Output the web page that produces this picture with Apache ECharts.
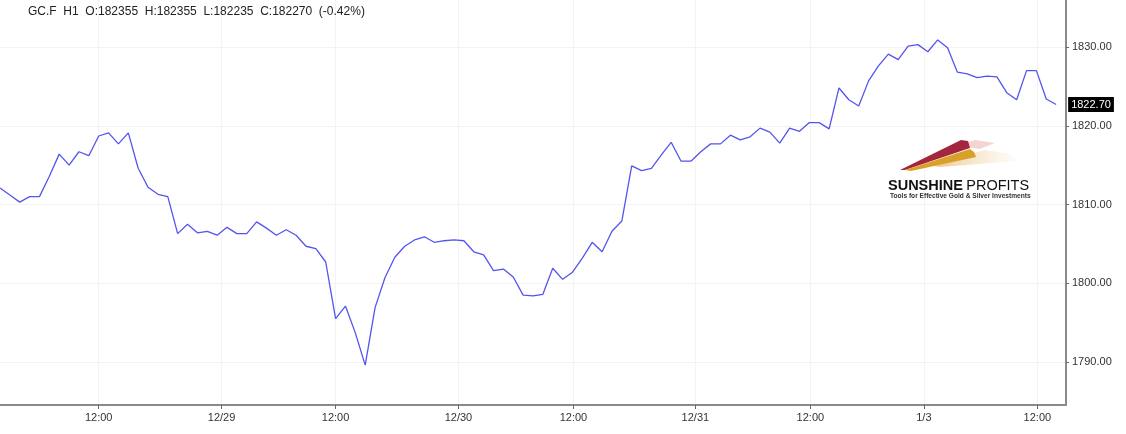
<!DOCTYPE html>
<html>
<head>
<meta charset="utf-8">
<script src="https://cdn.jsdelivr.net/npm/echarts@6/dist/echarts.min.js"></script>
<style>
html,body{margin:0;padding:0;background:#fff;}
#chart{width:1126px;height:434px;}
</style>
</head>
<body>
<div id="chart"></div>
<script>
// Hourly closes (bar index = position in array)
const prices = [
  1812.1, 1811.2, 1810.3, 1811.0, 1811.0, 1813.6, 1816.4, 1815.0, 1816.7, 1816.2,
  1818.7, 1819.1, 1817.7, 1819.1, 1814.6, 1812.2, 1811.3, 1811.0, 1806.3, 1807.5,
  1806.4, 1806.6, 1806.1, 1807.1, 1806.3, 1806.3, 1807.8, 1807.0, 1806.1, 1806.8,
  1806.1, 1804.7, 1804.4, 1802.7, 1795.5, 1797.1, 1793.7, 1789.6, 1796.9, 1800.7,
  1803.3, 1804.7, 1805.5, 1805.9, 1805.2, 1805.4, 1805.5, 1805.4, 1804.0, 1803.6,
  1801.6, 1801.8, 1800.8, 1798.5, 1798.4, 1798.6, 1801.9, 1800.5, 1801.4, 1803.2,
  1805.2, 1804.0, 1806.6, 1807.9, 1814.9, 1814.3, 1814.6, 1816.3, 1817.9, 1815.5,
  1815.5, 1816.7, 1817.7, 1817.7, 1818.8, 1818.2, 1818.6, 1819.7, 1819.2, 1817.8,
  1819.7, 1819.3, 1820.4, 1820.4, 1819.6, 1824.8, 1823.3, 1822.5, 1825.7, 1827.6,
  1829.1, 1828.4, 1830.1, 1830.3, 1829.4, 1830.9, 1829.9, 1826.8, 1826.6, 1826.1,
  1826.3, 1826.2, 1824.2, 1823.3, 1827.0, 1827.0, 1823.4, 1822.7
];
// X tick positions (in bar-index units) and their labels
const xTickPositions = [10, 22.45, 34, 46.45, 58.1, 70.45, 82.1, 93.6, 105.1];
const xTickLabels = ['12:00', '12/29', '12:00', '12/30', '12:00', '12/31', '12:00', '1/3', '12:00'];
// Y ticks
const yTicks = [1790, 1800, 1810, 1820, 1830];
const titleText = 'GC.F  H1  O:182355  H:182355  L:182235  C:182270  (-0.42%)';

const seriesData = prices.map((v, i) => [i, v]);
const axisGray = '#8a8a8a';
const gridColor = '#f3f3f3';
const font = 'Liberation Sans, Arial, sans-serif';

const chart = echarts.init(document.getElementById('chart'), null, {renderer: 'canvas'});
chart.setOption({
  animation: false,
  backgroundColor: '#ffffff',
  grid: {left: 0, right: 60, top: 0, bottom: 29, containLabel: false},
  xAxis: {
    type: 'value',
    min: 0,
    max: 108,
    axisLine: {show: true, onZero: false, lineStyle: {color: axisGray, width: 2}},
    axisTick: {show: true, length: 4, customValues: xTickPositions, lineStyle: {color: '#666', width: 1}},
    axisLabel: {
      customValues: xTickPositions,
      fontFamily: font, fontSize: 11, color: '#333', margin: 7,
      formatter: function (v) {
        let best = 0, d = 1e9;
        xTickPositions.forEach((p, k) => { if (Math.abs(p - v) < d) { d = Math.abs(p - v); best = k; } });
        return xTickLabels[best];
      }
    },
    splitLine: {show: true, lineStyle: {color: gridColor, width: 1}}
  },
  yAxis: {
    type: 'value',
    position: 'right',
    min: 1784.54,
    max: 1835.97,
    axisLine: {show: true, onZero: false, lineStyle: {color: axisGray, width: 2}},
    axisTick: {show: true, inside: false, length: 3, customValues: yTicks, lineStyle: {color: '#666', width: 1}},
    axisLabel: {
      customValues: yTicks,
      fontFamily: font, fontSize: 11, color: '#333', margin: 6,
      formatter: v => v.toFixed(2)
    },
    splitLine: {show: true, lineStyle: {color: gridColor, width: 1}}
  },
  series: [{
    type: 'line',
    data: seriesData,
    showSymbol: false,
    symbol: 'none',
    z: 5,
    lineStyle: {color: '#5454ee', width: 1.3},
    clip: false,
    endLabel: {
      show: true,
      distance: 12,
      formatter: p => p.value[1].toFixed(2),
      backgroundColor: '#000',
      color: '#fff',
      fontFamily: font,
      fontSize: 11,
      padding: [2, 3, 2, 3]
    }
  }],
  graphic: [
    {
      type: 'text', left: 28, top: 6, z: 100,
      style: {text: titleText, fontFamily: font, fontSize: 12, fill: '#222'}
    },
    // logo swooshes
    {
      type: 'polygon', silent: true, z: 100,
      shape: {points: [[900, 170], [961, 140], [968, 141], [970, 148], [905, 170]]},
      style: {fill: '#a3263d'}
    },
    {
      type: 'polygon', silent: true, z: 100,
      shape: {points: [[905, 170], [970, 149], [974, 152], [976, 157], [911, 171]]},
      style: {fill: '#d9a12a'}
    },
    {
      type: 'polygon', silent: true, z: 99,
      shape: {points: [[930, 165], [985, 150], [1010, 154], [1018, 161], [940, 167]]},
      style: {
        fill: new echarts.graphic.LinearGradient(0, 0, 1, 0, [
          {offset: 0, color: 'rgba(232,190,120,0.9)'},
          {offset: 1, color: 'rgba(245,225,190,0.1)'}
        ])
      }
    },
    {
      type: 'polygon', silent: true, z: 99,
      shape: {points: [[955, 146], [975, 140], [995, 143], [980, 149]]},
      style: {fill: 'rgba(230,170,170,0.5)'}
    },
    {
      type: 'text', left: 888, top: 178, z: 100,
      style: {
        text: '{b|SUNSHINE} {r|PROFITS}',
        rich: {
          b: {fontFamily: font, fontSize: 14.5, fontWeight: 'bold', fill: '#111', color: '#111'},
          r: {fontFamily: font, fontSize: 14.5, fill: '#111', color: '#111'}
        }
      }
    },
    {
      type: 'text', left: 890, top: 193, z: 100,
      style: {text: 'Tools for Effective Gold & Silver Investments', fontFamily: font, fontSize: 6.6, fontWeight: 'bold', fill: '#333'}
    }
  ]
});
</script>
</body>
</html>
